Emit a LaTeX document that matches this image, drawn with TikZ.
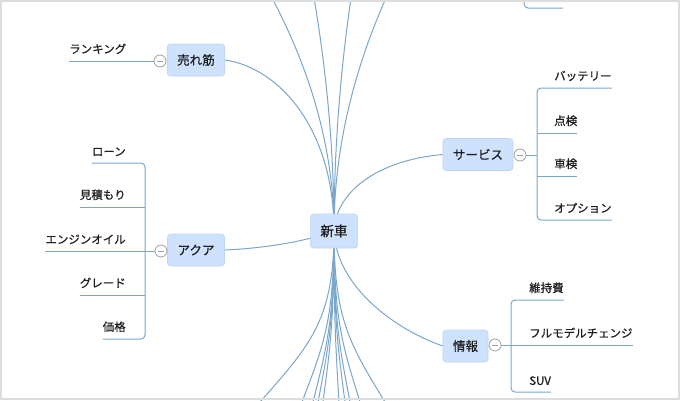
\documentclass[tikz,border=0pt]{standalone}
\usepackage{fontspec}
\setmainfont{Noto Sans CJK JP}[FakeBold=0.6]
\usetikzlibrary{positioning,calc}
\definecolor{lnblue}{RGB}{122,166,204}
\definecolor{boxfill}{RGB}{206,226,253}
\definecolor{boxedge}{RGB}{188,213,243}
\definecolor{txtgray}{RGB}{30,30,30}
\definecolor{tglgray}{RGB}{160,160,160}
\definecolor{framegray}{RGB}{221,221,221}
\pgfdeclarelayer{bg}
\pgfsetlayers{bg,main}
\tikzset{
  topic/.style={fill=boxfill, draw=boxedge, line width=0.5pt, rounded corners=2.5pt,
      minimum height=24pt, inner xsep=7.5pt, text=txtgray, font=\fontsize{9.4}{11}\selectfont},
  hub/.style={topic, minimum height=25.5pt, font=\fontsize{10.2}{12}\selectfont},
  leaf/.style={inner xsep=0pt, inner ysep=5pt, text=txtgray, font=\fontsize{8.6}{10}\selectfont},
  tgl/.style={circle, draw=tglgray, fill=white, line width=0.6pt, minimum size=9pt, inner sep=0pt,
      path picture={\draw[tglgray, line width=0.6pt]
        ($(path picture bounding box.center)+(-2.4pt,0)$) -- ++(4.8pt,0);}},
  lnk/.style={lnblue, line width=0.75pt},
  brk/.style={lnk, rounded corners=3pt},
}
\begin{document}
\begin{tikzpicture}[x=0.75pt, y=-0.75pt]
  \useasboundingbox (0,0) rectangle (680,400);
  % topics
  \node[hub] (car) at (334,231) {新車};
  \node[topic] (best) at (196,60) {売れ筋};
  \node[topic] (aqua) at (196,250) {アクア};
  \node[topic] (serv) at (478,154.5) {サービス};
  \node[topic] (info) at (465.5,346) {情報};
  \node[tgl] (bestT) at (160,61) {};
  \node[tgl] (aquaT) at (161,251) {};
  \node[tgl] (servT) at (520,155) {};
  \node[tgl] (infoT) at (495,345) {};
  \coordinate (aquaB) at (145,251);
  \coordinate (servB) at (537,155);
  \coordinate (infoB) at (511,345);
  % leaves
  \node[leaf, anchor=south west] (rank) at (69,61) {ランキング};
  \node[leaf, anchor=south east] (loan) at (126,163) {ローン};
  \node[leaf, anchor=south east] (est) at (126,207) {見積もり};
  \node[leaf, anchor=south east] (oil) at (126,251) {エンジンオイル};
  \node[leaf, anchor=south east] (grade) at (126,295) {グレード};
  \node[leaf, anchor=south east] (price) at (126,339) {価格};
  \node[leaf, anchor=south west] (batt) at (554,88) {バッテリー};
  \node[leaf, anchor=south west] (insp) at (554,133) {点検};
  \node[leaf, anchor=south west] (shaken) at (554,176) {車検};
  \node[leaf, anchor=south west] (opt) at (554,220) {オプション};
  \node[leaf, anchor=south west] (upkeep) at (529,300) {維持費};
  \node[leaf, anchor=south west] (model) at (529,345) {フルモデルチェンジ};
  \node[leaf, anchor=south west] (suv) at (529,392) {SUV};
  \coordinate (offA) at (524,-6);
  \coordinate (offB) at (563,8);

  \begin{pgfonlayer}{bg}
    \clip (0,0) rectangle (680,400);
    \draw[lnk] (car.center) .. controls (334,130) and (280,68) .. (best.east);
    \draw[lnk] (car.center) .. controls (310,240) and (270,248) .. (aqua.east);
    \draw[lnk] (car.center) .. controls (336,190) and (380,160) .. (serv.west);
    \draw[lnk] (car.center) .. controls (336,285) and (392,328) .. (info.west);
    \foreach \xe [count=\i] in {272,314,351,386} {
      \coordinate (up\i) at (\xe,-2);
      \draw[lnk] (car.center) .. controls (334,140) and ({334+(\xe-334)*0.47},60) .. (up\i);
    }
    \foreach \xe [count=\i] in {260,302,313,318,323,339,345,350,360,385} {
      \coordinate (dn\i) at (\xe,402);
      \draw[lnk] (car.center) .. controls (334,320) and ({334+(\xe-334)*0.32},345) .. (dn\i);
    }
    % branches
    \draw[lnk] (rank.south west) -- (bestT);
    \draw[brk] (loan.south west) -- (loan.south west -| aquaB) -- (price.south west -| aquaB) -- (price.south west);
    \draw[lnk] (est.south west) -- (est.south west -| aquaB);
    \draw[lnk] (oil.south west) -- (aquaT);
    \draw[lnk] (grade.south west) -- (grade.south west -| aquaB);
    \draw[brk] (batt.south east) -- (batt.south east -| servB) -- (opt.south east -| servB) -- (opt.south east);
    \draw[lnk] (insp.south east) -- (insp.south east -| servB);
    \draw[lnk] (shaken.south east) -- (shaken.south east -| servB);
    \draw[lnk] (servT) -- (servB);
    \draw[brk] (upkeep.south east) -- (upkeep.south east -| infoB) -- (suv.south east -| infoB) -- (suv.south east);
    \draw[lnk] (model.south east) -- (infoT);
    \draw[brk] (offA) |- (offB);
  \end{pgfonlayer}

  \draw[framegray, line width=1.5pt] (1,1) rectangle (679,399);
\end{tikzpicture}
\end{document}
